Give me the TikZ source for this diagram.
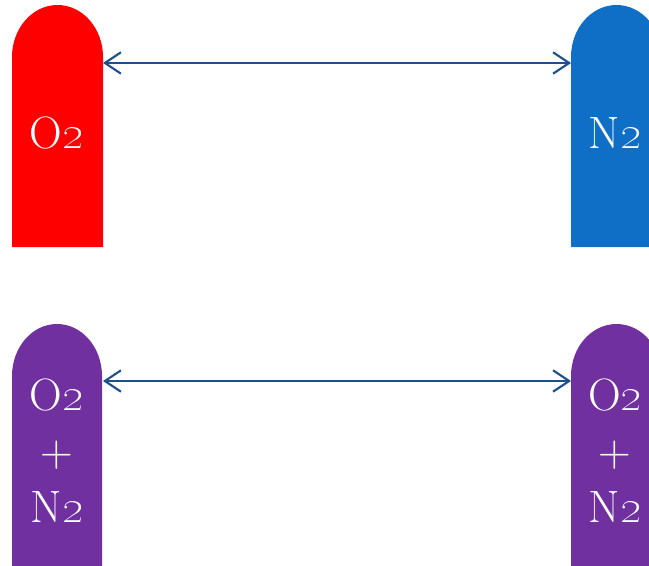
\documentclass[tikz,border=0pt]{standalone}
\usetikzlibrary{arrows.meta}
\definecolor{oxred}{HTML}{FF0000}
\definecolor{nitblue}{HTML}{0F6FC6}
\definecolor{mixpurple}{HTML}{7030A0}
\definecolor{arrowblue}{HTML}{1B4F91}
\newcommand{\two}{\oldstylenums{2}}

\begin{document}
\begin{tikzpicture}[x=0.75pt,y=0.75pt,
  gas/.style={text=white,font=\fontsize{34}{42}\selectfont,align=center,inner sep=0pt},
  link/.style={draw=arrowblue,line width=1.6pt,
    {Straight Barb[length=12pt,width=16pt]}-{Straight Barb[length=12pt,width=16pt]}}]
\useasboundingbox (0,0) rectangle (649,565);
\clip (0,0) rectangle (649,565);
% tubes, top row
\fill[oxred] (12,318) -- (12,508) arc[start angle=180,end angle=0,x radius=45.5,y radius=52] -- (103,318) -- cycle;
\fill[nitblue] (571,318) -- (571,508) arc[start angle=180,end angle=0,x radius=45.5,y radius=52] -- (662,318) -- cycle;
% tubes, bottom row
\fill[mixpurple] (12,-5) -- (12,189) arc[start angle=180,end angle=0,x radius=45,y radius=52] -- (102,-5) -- cycle;
\fill[mixpurple] (571,-5) -- (571,189) arc[start angle=180,end angle=0,x radius=45.5,y radius=52] -- (662,-5) -- cycle;
% labels
\node[gas] (o2) at (57,432) {O\two};
\node[gas] (n2) at (615,432) {N\two};
\node[gas] (mixl) at (57,114) {O\two\\+\\N\two};
\node[gas] (mixr) at (615,114) {O\two\\+\\N\two};
% arrow ends on the tube walls
\coordinate (o2r) at (103,502);
\coordinate (n2l) at (571,502);
\coordinate (mixlr) at (103,184);
\coordinate (mixrl) at (571,184);
\draw[link] (o2r) to (n2l);
\draw[link] (mixlr) to (mixrl);
\end{tikzpicture}
\end{document}
